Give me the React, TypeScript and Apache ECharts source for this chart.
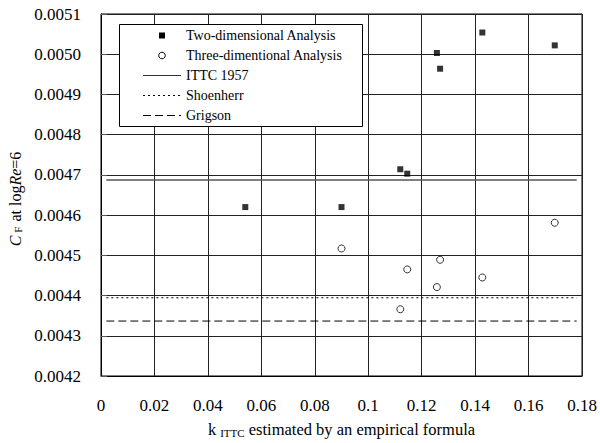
import React, { useEffect, useRef } from "react";
import * as echarts from "echarts";

const xTicks = { min: 0, max: 0.18, interval: 0.02 };
const yTicks = { min: 0.0042, max: 0.0051, interval: 0.0001 };

const twoDimX = [0.054, 0.090, 0.112, 0.1146, 0.1257, 0.1269, 0.1427, 0.1698];
const twoDimY = [0.00462, 0.00462, 0.004714, 0.004703, 0.005003, 0.004964, 0.005054, 0.005022];

const threeDimX = [0.090, 0.1146, 0.1269, 0.1257, 0.1427, 0.112, 0.1698];
const threeDimY = [0.004517, 0.004465, 0.004489, 0.004421, 0.004445, 0.004366, 0.004581];

const lineRange = [0.002, 0.178];
const ittc1957 = 0.0046875;
const shoenherr = 0.0043945;
const grigson = 0.0043366;

const seriesNames = [
  "Two-dimensional Analysis",
  "Three-dimentional Analysis",
  "ITTC 1957",
  "Shoenherr",
  "Grigson",
];

const FONT = "Liberation Serif";

export default function App() {
  const ref = useRef<HTMLDivElement>(null);
  useEffect(() => {
    document.body.style.margin = "0";
    if (!ref.current) return;
    const chart = echarts.init(ref.current, null, { renderer: "svg" });
    const pairs = (xs: number[], ys: number[]) => xs.map((x, i) => [x, ys[i]]);
    const hLine = (v: number) => lineRange.map((x) => [x, v]);

    const lgX = 119, lgY = 24, lgW = 243, lgH = 102;
    const rowY = (i: number) => lgY + 11.5 + i * 20;
    const iconCx = 162, iconL = 143, iconR = 181, textX = 186;
    const legendEls: any[] = [
      {
        type: "rect",
        shape: { x: lgX + 0.5, y: lgY + 0.5, width: lgW, height: lgH },
        style: { fill: "#fff", stroke: "#000", lineWidth: 1 },
        z: 100,
      },
      {
        type: "rect",
        shape: { x: iconCx - 3, y: rowY(0) - 3, width: 6, height: 6 },
        style: { fill: "#000" },
        z: 101,
      },
      {
        type: "circle",
        shape: { cx: iconCx, cy: rowY(1), r: 3.3 },
        style: { fill: "#fff", stroke: "#000", lineWidth: 1 },
        z: 101,
      },
      {
        type: "line",
        shape: { x1: iconL, y1: rowY(2), x2: iconR, y2: rowY(2) },
        style: { stroke: "#333", lineWidth: 1 },
        z: 101,
      },
      {
        type: "line",
        shape: { x1: iconL, y1: rowY(3), x2: iconR, y2: rowY(3) },
        style: { stroke: "#000", lineWidth: 1, lineDash: [2, 3] },
        z: 101,
      },
      {
        type: "line",
        shape: { x1: iconL, y1: rowY(4), x2: iconR, y2: rowY(4) },
        style: { stroke: "#000", lineWidth: 1, lineDash: [8, 4] },
        z: 101,
      },
      ...seriesNames.map((n, i) => ({
        type: "text",
        x: textX,
        y: rowY(i),
        style: {
          text: n,
          fill: "#000",
          fontFamily: FONT,
          fontSize: 14,
          align: "left",
          verticalAlign: "middle",
        },
        z: 101,
      })),
    ];

    const labelStyle = { fontFamily: FONT, fontSize: 17, color: "#000" };

    chart.setOption({
      animation: false,
      backgroundColor: "#fff",
      textStyle: { fontFamily: FONT },
      grid: {
        left: 101,
        right: 18,
        top: 14,
        bottom: 62,
        show: true,
        borderColor: "#000",
        borderWidth: 1,
      },
      xAxis: {
        type: "value",
        min: xTicks.min,
        max: xTicks.max,
        interval: xTicks.interval,
        name: "k{s|ITTC} {m|estimated by an empirical formula}",
        nameLocation: "middle",
        nameGap: 45,
        nameTextStyle: {
          fontFamily: FONT,
          fontSize: 16.5,
          color: "#000",
          rich: {
            s: { fontFamily: FONT, fontSize: 11, color: "#000", verticalAlign: "bottom", padding: [0, 0, 0, 4] },
            m: { fontFamily: FONT, fontSize: 16.5, color: "#000" },
          },
        },
        axisLine: { show: true, lineStyle: { color: "#000", width: 1 } },
        axisTick: { show: false },
        axisLabel: {
          ...labelStyle,
          margin: 21,
          formatter: (v: number) => `{a|${Number(v.toFixed(2))}}`,
          rich: { a: { ...labelStyle } },
        },
        splitLine: { show: true, lineStyle: { color: "#222", width: 1 } },
      },
      yAxis: {
        type: "value",
        min: yTicks.min,
        max: yTicks.max,
        interval: yTicks.interval,
        axisLine: { show: true, lineStyle: { color: "#000", width: 1 } },
        axisTick: { show: true, inside: true, length: 6, lineStyle: { color: "#555" } },
        axisLabel: {
          ...labelStyle,
          margin: 20,
          formatter: (v: number) => `{a|${v.toFixed(4)}}`,
          rich: { a: { ...labelStyle } },
        },
        splitLine: { show: true, lineStyle: { color: "#222", width: 1 } },
      },
      graphic: [
        {
          type: "text",
          x: 15,
          y: 199,
          rotation: Math.PI / 2,
          style: {
            text: "{i|C}{s|F} at log{i|Re}=6",
            fill: "#000",
            fontFamily: FONT,
            fontSize: 16,
            align: "center",
            verticalAlign: "middle",
            rich: {
              i: { fontFamily: FONT, fontSize: 16, fontStyle: "italic", fill: "#000" },
              s: { fontFamily: FONT, fontSize: 11, fill: "#000", verticalAlign: "bottom", padding: [0, 1, 0, 3] },
            },
          },
        },
        ...legendEls,
      ],
      series: [
        {
          name: seriesNames[0],
          type: "scatter",
          symbol: "rect",
          symbolSize: 6,
          itemStyle: { color: "#000" },
          data: pairs(twoDimX, twoDimY),
          z: 5,
        },
        {
          name: seriesNames[1],
          type: "scatter",
          symbol: "circle",
          symbolSize: 7,
          itemStyle: { color: "#fff", borderColor: "#000", borderWidth: 1 },
          data: pairs(threeDimX, threeDimY),
          z: 5,
        },
        {
          name: seriesNames[2],
          type: "line",
          symbol: "none",
          lineStyle: { color: "#555", width: 1.5, type: "solid" },
          data: hLine(ittc1957),
        },
        {
          name: seriesNames[3],
          type: "line",
          symbol: "none",
          lineStyle: { color: "#000", width: 1, type: [2, 3] },
          data: hLine(shoenherr),
        },
        {
          name: seriesNames[4],
          type: "line",
          symbol: "none",
          lineStyle: { color: "#000", width: 1, type: [8, 4] },
          data: hLine(grigson),
        },
      ],
    });
    return () => chart.dispose();
  }, []);
  return <div ref={ref} style={{ width: 600, height: 443 }} />;
}
